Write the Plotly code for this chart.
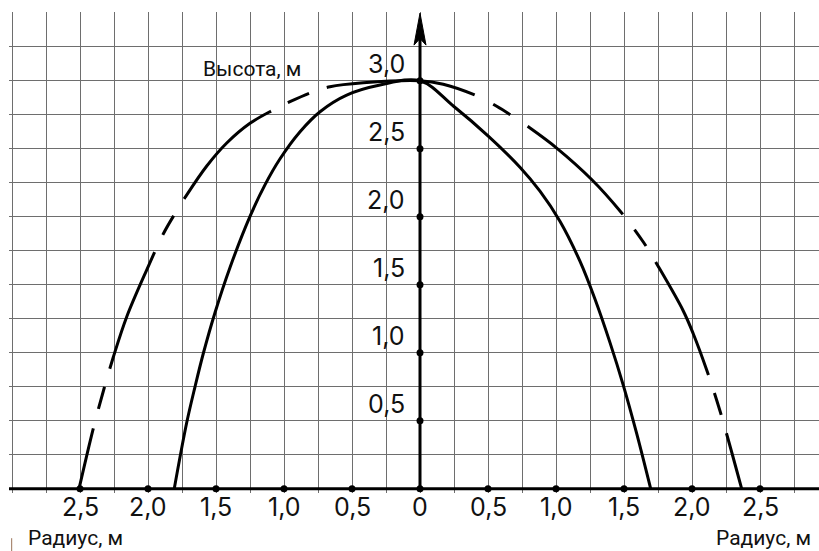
import plotly.graph_objects as go

# --- данные ---
# сплошная кривая (слева направо)
solid_x = [-1.807, -1.716, -1.654, -1.593, -1.507, -1.397, -1.25, -1.14, -1.029, -0.882,
           -0.735, -0.539, -0.294, 0.0, 0.245, 0.502, 0.735, 0.882, 1.029, 1.176,
           1.287, 1.397, 1.495, 1.593, 1.696]
solid_y = [0.0, 0.483, 0.751, 0.996, 1.296, 1.627, 2.002, 2.234, 2.426, 2.625,
           2.772, 2.894, 2.968, 3.0, 2.814, 2.593, 2.364, 2.188, 1.967, 1.673,
           1.393, 1.074, 0.76, 0.406, 0.0]

# пунктирная кривая (слева направо)
dash_x = [-2.507, -2.402, -2.321, -2.255, -2.157, -2.01, -1.888, -1.801, -1.728, -1.568,
          -1.421, -1.25, -1.079, -0.956, -0.796, -0.662, -0.417, 0.0, 0.171, 0.429,
          0.564, 0.686, 0.809, 1.005, 1.262, 1.471, 1.642, 1.752, 1.936, 2.01,
          2.108, 2.206, 2.365]
dash_y = [0.0, 0.444, 0.744, 0.968, 1.263, 1.608, 1.873, 2.024, 2.141, 2.373,
          2.542, 2.687, 2.785, 2.846, 2.915, 2.956, 2.985, 3.0, 2.974, 2.884,
          2.812, 2.735, 2.652, 2.505, 2.274, 2.042, 1.814, 1.634, 1.307, 1.138,
          0.873, 0.571, 0.0]

# подписи осей
x_ticks = [-2.5, -2.0, -1.5, -1.0, -0.5, 0.0, 0.5, 1.0, 1.5, 2.0, 2.5]
x_labels = ["2,5", "2,0", "1,5", "1,0", "0,5", "0", "0,5", "1,0", "1,5", "2,0", "2,5"]
y_ticks = [0.5, 1.0, 1.5, 2.0, 2.5, 3.0]
y_labels = ["0,5", "1,0", "1,5", "2,0", "2,5", "3,0"]

NUM_FONT = "Inter"
TXT_FONT = "Roboto"
X_RANGE = [-3.0221, 2.9338]
Y_RANGE = [-0.0316, 3.5053]

fig = go.Figure()

fig.add_trace(go.Scatter(
    x=dash_x, y=dash_y, mode="lines",
    line=dict(color="black", width=3, shape="spline", smoothing=1,
              dash="62px,20px,23px,19px,125px,19px,22px,20px,125px,19px,23px,19px,150px,"
                   "21px,20px,21px,130px,19px,20px,19px,125px,19px,23px,19px,200px"),
    hoverinfo="skip"))

fig.add_trace(go.Scatter(
    x=solid_x, y=solid_y, mode="lines",
    line=dict(color="black", width=3, shape="spline", smoothing=1),
    hoverinfo="skip"))

# точки на осях
fig.add_trace(go.Scatter(
    x=x_ticks + [0.0] * len(y_ticks),
    y=[0.0] * len(x_ticks) + y_ticks,
    mode="markers", marker=dict(color="black", size=7),
    hoverinfo="skip"))

shapes = [
    # ось X
    dict(type="line", xref="paper", yref="y", x0=0, x1=1, y0=0, y1=0,
         line=dict(color="black", width=3)),
    # ось Y
    dict(type="line", xref="x", yref="y", x0=0, x1=0, y0=0, y1=3.32,
         line=dict(color="black", width=3)),
    # стрелка
    dict(type="path", xref="x", yref="y",
         path="M 0,3.497 L 0.044,3.262 L 0,3.31 L -0.044,3.262 Z",
         fillcolor="black", line=dict(color="black", width=1)),
    # маленькая черта слева внизу
    dict(type="line", xref="paper", yref="paper", x0=0.0033, x1=0.0033, y0=-0.094, y1=-0.121,
         line=dict(color="#9a7358", width=1)),
]

annotations = []
for xv, lab in zip(x_ticks, x_labels):
    annotations.append(dict(x=xv, y=-0.0301, xref="x", yref="paper", text=lab,
                            showarrow=False, xanchor="center", yanchor="middle",
                            font=dict(family=NUM_FONT, size=25, color="#111")))
for yv, lab in zip(y_ticks, y_labels):
    annotations.append(dict(x=-0.098, y=yv + 0.125, xref="x", yref="y", text=lab,
                            showarrow=False, xanchor="right", yanchor="middle",
                            font=dict(family=NUM_FONT, size=25, color="#111")))

annotations += [
    dict(x=-1.235, y=3.086, xref="x", yref="y", text="Высота, м", showarrow=False,
         xanchor="center", yanchor="middle", font=dict(family=TXT_FONT, size=21, color="#111")),
    dict(x=0.0815, y=-0.094, xref="paper", yref="paper", text="Радиус, м", showarrow=False,
         xanchor="center", yanchor="middle", font=dict(family=TXT_FONT, size=21, color="#111")),
    dict(x=0.932, y=-0.094, xref="paper", yref="paper", text="Радиус, м", showarrow=False,
         xanchor="center", yanchor="middle", font=dict(family=TXT_FONT, size=21, color="#111")),
]

fig.update_layout(
    width=819, height=551,
    margin=dict(l=9, r=0, t=12, b=58),
    paper_bgcolor="white", plot_bgcolor="white",
    showlegend=False,
    shapes=shapes,
    annotations=annotations,
    xaxis=dict(range=X_RANGE, tick0=0, dtick=0.25, showgrid=True, gridcolor="#6e6e6e",
               gridwidth=1, zeroline=False, showline=False, showticklabels=False,
               fixedrange=True),
    yaxis=dict(range=Y_RANGE, tick0=0, dtick=0.25, showgrid=True, gridcolor="#6e6e6e",
               gridwidth=1, zeroline=False, showline=False, showticklabels=False,
               fixedrange=True),
)

fig.write_html("out.html", config={"displayModeBar": False},
               post_script="document.body.style.margin='0';document.body.style.overflow='hidden';")
